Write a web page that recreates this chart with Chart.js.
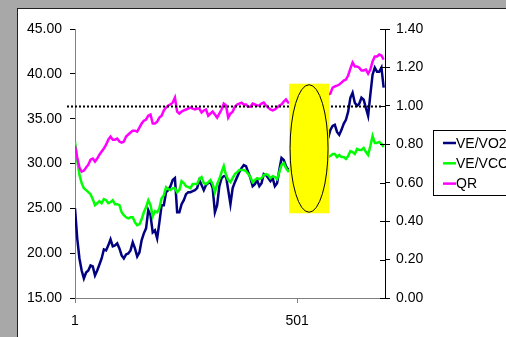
<!DOCTYPE html>
<html>
<head>
<meta charset="utf-8">
<script src="https://cdn.jsdelivr.net/npm/chart.js@4"></script>
<style>
  html, body { margin: 0; padding: 0; overflow: hidden; background: #a8a8a8; }
  #wrap { position: absolute; left: 0; top: 0; width: 506px; height: 337px; }
</style>
</head>
<body>
<div id="wrap"><canvas id="veChart" width="506" height="337"></canvas></div>
<script>
// sample index (breath number), every 5th point
const sampleIdx = [1, 6, 11, 16, 21, 26, 31, 36, 41, 46,
    51, 56, 61, 66, 71, 76, 81, 86, 91, 96,
    101, 106, 111, 116, 121, 126, 131, 136, 141, 146,
    151, 156, 161, 166, 171, 176, 181, 186, 191, 196,
    201, 206, 211, 216, 221, 226, 231, 236, 241, 246,
    251, 256, 261, 266, 271, 276, 281, 286, 291, 296,
    301, 306, 311, 316, 321, 326, 331, 336, 341, 346,
    351, 356, 361, 366, 371, 376, 381, 386, 391, 396,
    401, 406, 411, 416, 421, 426, 431, 436, 441, 446,
    451, 456, 461, 466, 471, 476, 481, 486, 491, 496,
    501, 506, 511, 516, 521, 526, 531, 536, 541, 546,
    551, 556, 561, 566, 571, 576, 581, 586, 591, 596,
    601, 606, 611, 616, 621, 626, 631, 636, 641, 646,
    651, 656, 661, 666, 671, 676, 681, 686, 691, 696];

const veVo2 = [25.01, 21.65, 19.41, 18.07, 17.17, 17.84, 18.07, 18.63, 18.52, 17.51,
    18.07, 18.74, 19.41, 20.42, 20.31, 20.87, 21.54, 20.76, 20.87, 21.09,
    20.53, 19.75, 19.41, 19.86, 19.97, 20.31, 21.20, 20.53, 19.64, 20.08,
    21.43, 22.21, 22.77, 24.79, 24.23, 22.32, 22.55, 21.65, 23.44, 25.35,
    25.35, 26.80, 27.03, 27.47, 28.15, 28.37, 24.56, 24.56, 25.46, 25.91,
    26.58, 26.80, 26.80, 26.91, 27.03, 27.25, 28.15, 27.59, 27.03, 27.59,
    27.81, 27.92, 27.25, 24.56, 25.35, 27.47, 28.37, 28.59, 28.59, 27.03,
    25.46, 27.25, 27.92, 28.48, 29.04, 29.49, 29.83, 29.71, 29.04, 28.37,
    27.47, 27.70, 28.15, 27.47, 27.81, 28.82, 28.71, 28.37, 28.03, 28.37,
    27.47, 27.81, 29.27, 30.61, 30.39, 29.71, 29.27, 29.49, 29.71, 29.94,
    30.16, 30.27, 30.39, 30.61, 30.95, 31.17, 31.28, 31.51, 31.73, 31.84,
    31.95, 32.18, 32.40, 32.63, 32.85, 33.75, 34.19, 34.31, 33.52, 33.19,
    33.75, 34.42, 34.87, 35.76, 37.33, 37.89, 36.77, 36.43, 36.66, 37.33,
    37.11, 36.21, 35.31, 37.67, 39.90, 40.69, 40.24, 40.24, 40.69, 38.45];

const veVco2 = [32.40, 30.39, 28.71, 27.81, 27.25, 27.03, 26.80, 26.58, 26.02, 25.35,
    25.57, 25.80, 25.57, 26.02, 25.91, 25.57, 25.68, 25.91, 25.46, 25.46,
    25.35, 24.56, 24.23, 24.00, 23.89, 24.00, 24.00, 23.44, 23.11, 23.22,
    23.78, 24.56, 25.12, 25.91, 25.35, 24.12, 24.68, 24.56, 25.01, 26.13,
    26.47, 27.36, 27.14, 27.03, 27.25, 27.25, 26.80, 27.03, 28.03, 27.81,
    27.47, 27.36, 27.25, 27.70, 27.70, 27.70, 28.26, 28.48, 27.81, 27.70,
    27.92, 28.15, 27.70, 26.80, 27.70, 28.26, 29.04, 29.71, 28.71, 28.15,
    27.92, 28.37, 28.82, 29.04, 29.27, 29.27, 29.27, 29.15, 28.82, 28.48,
    27.92, 28.15, 28.37, 28.26, 28.37, 28.71, 28.82, 28.71, 28.37, 28.59,
    28.48, 28.26, 29.04, 29.83, 30.05, 29.49, 29.15, 29.27, 29.38, 29.49,
    29.60, 29.71, 29.71, 29.83, 29.94, 29.94, 30.05, 30.16, 30.27, 30.27,
    30.39, 30.50, 30.61, 30.72, 30.72, 30.83, 31.06, 31.06, 30.72, 30.95,
    30.72, 30.72, 30.50, 30.83, 31.39, 31.28, 31.06, 31.62, 31.51, 31.51,
    31.73, 31.28, 30.95, 31.95, 33.07, 32.29, 32.29, 32.40, 32.18, 31.84];

const qr = [0.793, 0.731, 0.679, 0.658, 0.663, 0.679, 0.694, 0.720, 0.726, 0.710,
    0.726, 0.746, 0.762, 0.778, 0.798, 0.824, 0.840, 0.824, 0.824, 0.830,
    0.814, 0.809, 0.814, 0.840, 0.851, 0.861, 0.871, 0.871, 0.866, 0.887,
    0.908, 0.923, 0.929, 0.949, 0.955, 0.908, 0.908, 0.918, 0.939, 0.949,
    0.976, 0.991, 1.002, 1.007, 1.017, 1.043, 0.970, 0.960, 0.970, 0.976,
    0.981, 0.986, 0.991, 0.986, 0.981, 0.986, 0.986, 0.965, 0.976, 0.981,
    0.949, 0.960, 0.970, 0.955, 0.939, 0.960, 0.981, 1.012, 1.002, 0.939,
    0.960, 0.970, 0.996, 1.007, 1.012, 1.017, 1.007, 1.007, 0.996, 0.996,
    1.012, 1.007, 1.002, 1.002, 1.012, 1.017, 1.002, 0.991, 0.981, 0.976,
    0.981, 0.991, 1.002, 1.007, 1.022, 1.033, 1.017, 1.017, 1.022, 1.028,
    1.033, 1.028, 1.028, 1.038, 1.043, 1.043, 1.038, 1.048, 1.054, 1.054,
    1.048, 1.059, 1.064, 1.064, 1.059, 1.064, 1.095, 1.101, 1.105, 1.111,
    1.121, 1.132, 1.137, 1.158, 1.194, 1.226, 1.205, 1.205, 1.199, 1.184,
    1.184, 1.189, 1.168, 1.189, 1.231, 1.257, 1.257, 1.267, 1.262, 1.241];

const xTickLabels = [1, 501];
const qrThreshold = 1.0;
// highlighted span (sample range, VE axis range)
const markFrom = 483, markTo = 573;
const markTop = 38.9, markBottom = 24.45;

const FONT = '"Liberation Sans", Arial, sans-serif';

function pts(ys) {
    return sampleIdx.map((x, i) => ({ x: x, y: ys[i] }));
}

const frame = {
    id: 'frame',
    beforeDraw(chart) {
        const c = chart.ctx;
        c.save();
        c.fillStyle = '#a8a8a8';
        c.fillRect(0, 0, chart.width, chart.height);
        c.fillStyle = '#ffffff';
        c.fillRect(17, 8, chart.width, chart.height);
        c.strokeStyle = '#202020';
        c.lineWidth = 1;
        c.strokeRect(17.5, 8.5, chart.width + 10, chart.height + 10);
        c.restore();
    }
};

const extras = {
    id: 'extras',
    afterDatasetsDraw(chart) {
        const c = chart.ctx;
        const area = chart.chartArea;
        const x = chart.scales.x, y = chart.scales.y, y1 = chart.scales.y1;
        c.save();
        // QR = 1 reference line
        const ty = Math.round(y1.getPixelForValue(qrThreshold)) + 0.5;
        c.strokeStyle = '#000';
        c.lineWidth = 2;
        c.setLineDash([2, 2]);
        c.beginPath();
        c.moveTo(area.left - 8, ty);
        c.lineTo(area.right - 2, ty);
        c.stroke();
        c.setLineDash([]);
        // yellow box with ellipse
        const l = x.getPixelForValue(markFrom), r = x.getPixelForValue(markTo);
        const t = y.getPixelForValue(markTop), b = y.getPixelForValue(markBottom);
        c.fillStyle = '#ffff00';
        c.fillRect(l, t, r - l, b - t);
        c.strokeStyle = '#000';
        c.lineWidth = 1;
        c.beginPath();
        c.ellipse((l + r) / 2, (t + b) / 2, (r - l) / 2 - 1, (b - t) / 2 - 1, 0, 0, Math.PI * 2);
        c.stroke();
        c.restore();
    },
    afterDraw(chart) {
        const c = chart.ctx;
        const y1 = chart.scales.y1;
        const area = chart.chartArea;
        c.save();
        // inner half of the right axis ticks
        c.strokeStyle = '#000';
        c.lineWidth = 1;
        y1.ticks.forEach(tk => {
            const py = Math.round(y1.getPixelForValue(tk.value)) + 0.5;
            c.beginPath();
            c.moveTo(area.right - 5, py);
            c.lineTo(area.right, py);
            c.stroke();
        });
        // legend
        const lx = 433.5, ly = 130.5;
        c.fillStyle = '#fff';
        c.fillRect(lx, ly, 120, 65);
        c.strokeRect(lx, ly, 120, 65);
        c.font = '14px ' + FONT;
        c.textBaseline = 'middle';
        chart.data.datasets.forEach((ds, i) => {
            const ry = 143 + i * 20.3;
            c.strokeStyle = ds.borderColor;
            c.lineWidth = 2.5;
            c.beginPath();
            c.moveTo(443, ry);
            c.lineTo(456, ry);
            c.stroke();
            c.fillStyle = '#000';
            c.fillText(ds.label, 456, ry + 1);
        });
        c.restore();
    }
};

const ctx = document.getElementById('veChart').getContext('2d');
const chart = new Chart(ctx, {
    type: 'line',
    data: {
        datasets: [{
            label: 'VE/VO2',
            data: pts(veVo2),
            borderColor: '#000080',
            borderWidth: 2.5,
            yAxisID: 'y',
            order: 2
        }, {
            label: 'VE/VCO2',
            data: pts(veVco2),
            borderColor: '#00ff00',
            borderWidth: 2.5,
            yAxisID: 'y',
            order: 1
        }, {
            label: 'QR',
            data: pts(qr),
            borderColor: '#ff00ff',
            borderWidth: 2.5,
            yAxisID: 'y1',
            order: 0
        }]
    },
    options: {
        responsive: false,
        animation: false,
        events: [],
        layout: { padding: { top: 29, left: 0, right: 0, bottom: 0 } },
        elements: { point: { radius: 0 }, line: { tension: 0 } },
        plugins: { legend: { display: false }, tooltip: { enabled: false } },
        scales: {
            x: {
                type: 'linear',
                min: 1,
                max: 699,
                afterBuildTicks: s => { s.ticks = xTickLabels.map(v => ({ value: v })); },
                afterFit: s => { s.height = 39; },
                grid: { drawOnChartArea: false, tickLength: 5, color: '#808080' },
                border: { color: '#808080', width: 1 },
                ticks: {
                    padding: 10,
                    color: '#000',
                    font: { family: FONT, size: 14 },
                    maxRotation: 0,
                    callback: v => String(v)
                }
            },
            y: {
                position: 'left',
                min: 15,
                max: 45,
                afterFit: s => { s.width = 75; },
                grid: { drawOnChartArea: false, tickLength: 5, color: '#000' },
                border: { color: '#808080', width: 1 },
                ticks: {
                    stepSize: 5,
                    padding: 8,
                    color: '#000',
                    font: { family: FONT, size: 14 },
                    callback: v => v.toFixed(2)
                }
            },
            y1: {
                position: 'right',
                min: 0,
                max: 1.4,
                afterFit: s => { s.width = 121; },
                grid: { drawOnChartArea: false, tickLength: 5, color: '#000' },
                border: { color: '#000', width: 1 },
                ticks: {
                    stepSize: 0.2,
                    padding: 6,
                    color: '#000',
                    font: { family: FONT, size: 14 },
                    callback: v => v.toFixed(2)
                }
            }
        }
    },
    plugins: [frame, extras]
});
</script>
</body>
</html>
